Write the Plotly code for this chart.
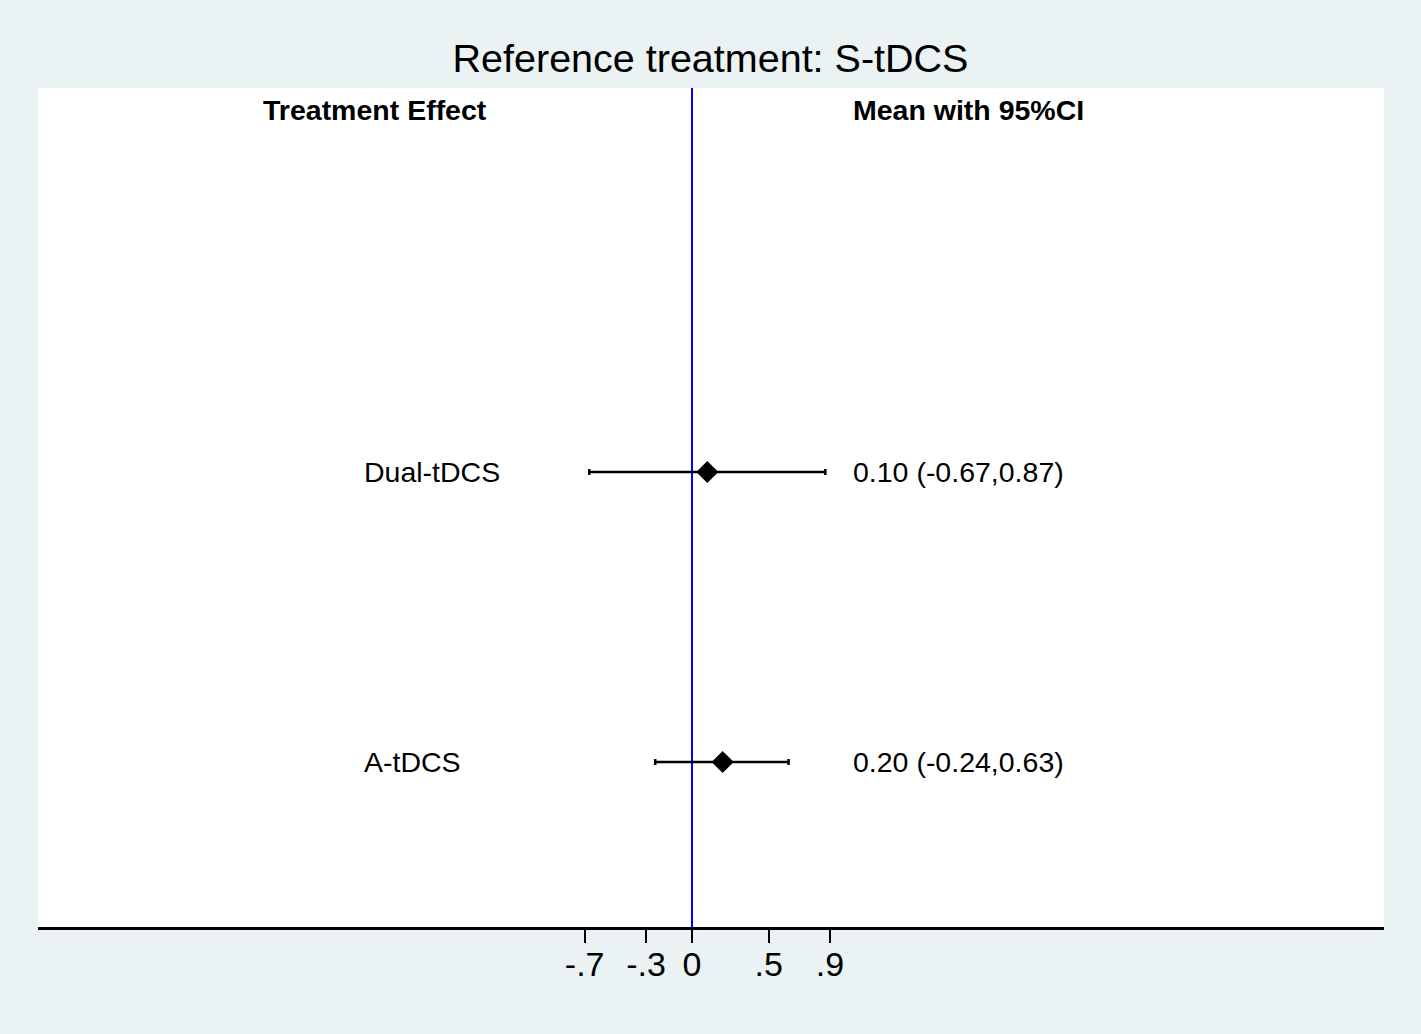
import plotly.graph_objects as go

# treatments compared with the reference (S-tDCS), bottom row first
treatments = ["A-tDCS", "Dual-tDCS"]
mean_effect = [0.20, 0.10]
ci_low = [-0.24, -0.67]
ci_high = [0.63, 0.87]
tick_vals = [-0.7, -0.3, 0, 0.5, 0.9]
tick_text = ["-.7", "-.3", "0", ".5", ".9"]

FONT = "Liberation Sans, Arial, sans-serif"
BG = "#eaf2f3"

rows = list(range(1, len(treatments) + 1))
header_y = rows[-1] + 1.248
label_x = -2.15
ci_text_x = 1.04

ci_labels = [f"{m:.2f} ({lo:.2f},{hi:.2f})" for m, lo, hi in zip(mean_effect, ci_low, ci_high)]

fig = go.Figure()

fig.add_trace(go.Scatter(
    x=mean_effect, y=rows, mode="markers",
    marker=dict(symbol="diamond", size=17, color="black"),
    error_x=dict(type="data", symmetric=False,
                 array=[h - m for h, m in zip(ci_high, mean_effect)],
                 arrayminus=[m - l for m, l in zip(mean_effect, ci_low)],
                 color="black", thickness=2.5, width=3),
    showlegend=False, hoverinfo="skip",
))

# left labels and right CI text
for r, name, txt in zip(rows, treatments, ci_labels):
    fig.add_annotation(x=label_x, y=r, text=name, showarrow=False, xanchor="left",
                       font=dict(family=FONT, size=28.5, color="black"))
    fig.add_annotation(x=ci_text_x, y=r, text=txt, showarrow=False, xanchor="left",
                       font=dict(family=FONT, size=28.5, color="black"))

# column headers
fig.add_annotation(x=-2.07, y=header_y, text="<b>Treatment Effect</b>", showarrow=False,
                   xanchor="center", font=dict(family=FONT, size=28.5, color="black"))
fig.add_annotation(x=ci_text_x, y=header_y, text="<b>Mean with 95%CI</b>", showarrow=False,
                   xanchor="left", font=dict(family=FONT, size=28.5, color="black"))

# no-effect line
fig.add_shape(type="line", x0=0, x1=0, y0=0, y1=1, xref="x", yref="paper",
              line=dict(color="#0000ff", width=2), layer="below")

fig.update_layout(
    width=1421, height=1034,
    paper_bgcolor=BG, plot_bgcolor="white",
    margin=dict(l=38, r=37, t=88, b=107),
    title=dict(text="Reference treatment: S-tDCS", x=0.5, xanchor="center",
               y=1 - 58 / 1034, yanchor="middle",
               font=dict(family=FONT, size=39.5, color="black")),
    xaxis=dict(range=[-4.266, 4.514], tickvals=tick_vals, ticktext=tick_text,
               showgrid=False, zeroline=False, showline=True, linecolor="black", linewidth=3,
               ticks="outside", ticklen=13, tickwidth=2, tickcolor="black",
               ticklabelstandoff=-8,
               tickfont=dict(family=FONT, size=34, color="black")),
    yaxis=dict(range=[0.431, 3.324], showgrid=False, zeroline=False,
               showticklabels=False, showline=False),
)

fig.write_html("out.html", config={"displayModeBar": False},
               post_script="document.body.style.margin='0';")
